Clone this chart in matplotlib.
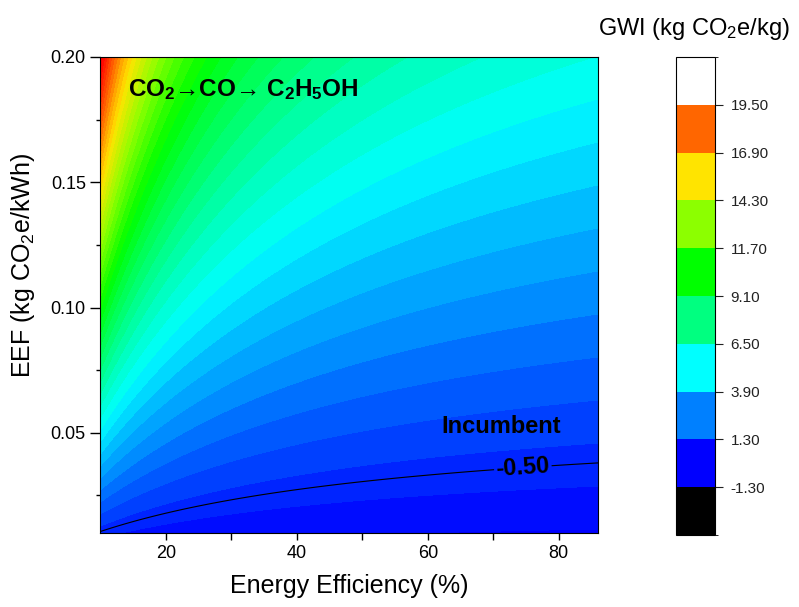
import numpy as np
import matplotlib
matplotlib.use("Agg")
import matplotlib.pyplot as plt
from matplotlib.colors import LinearSegmentedColormap, ListedColormap, BoundaryNorm, Normalize
import matplotlib.colorbar as mcolorbar

plt.rcParams['font.family'] = ['Liberation Sans', 'DejaVu Sans']
plt.rcParams['mathtext.fontset'] = 'custom'
plt.rcParams['mathtext.rm'] = 'Liberation Sans'
plt.rcParams['mathtext.it'] = 'Liberation Sans:italic'
plt.rcParams['mathtext.bf'] = 'Liberation Sans:bold'

# ---- data / model parameters (GWI = base + EEF * (bop + cell / efficiency)) ----
gwi_base = -1.65          # kg CO2e/kg, non-electricity contribution
elec_bop = 20.0           # kWh/kg, efficiency-independent electricity
elec_cell = 8.84          # kWh/kg at 100 % efficiency
efficiency_range = [10, 86]      # %
eef_range = [0.01, 0.20]         # kg CO2e/kWh
incumbent_level = [-0.50]

cbar_bounds = [-1.30, 1.30, 3.90, 6.50, 9.10, 11.70, 14.30, 16.90, 19.50]
cbar_colors = ['#000000', '#0000FF', '#0080FF', '#00FFFF', '#00FF80', '#00FF00',
               '#8CFF00', '#FFE400', '#FF6600', '#FFFFFF']
map_colors = ['#0000FF', '#0080FF', '#00FFFF', '#00FF80', '#00FF00',
              '#8CFF00', '#FFE400', '#FF6600', '#FF0000']

eta = np.linspace(efficiency_range[0], efficiency_range[1], 300)
eef = np.linspace(eef_range[0], eef_range[1], 300)
ETA, EEF = np.meshgrid(eta, eef)
GWI = gwi_base + EEF * (elec_bop + elec_cell / (ETA / 100.0))

fig = plt.figure(figsize=(7.99, 6.07), dpi=100)
ax = fig.add_axes([0.1257, 0.1219, 0.6228, 0.7842])

cmap = LinearSegmentedColormap.from_list('gwi', list(zip(
    (np.array(cbar_bounds) - cbar_bounds[0]) / (cbar_bounds[-1] - cbar_bounds[0]), map_colors)))
cmap.set_over('#FF0000')
cmap.set_under('#0000FF')
levels = np.arange(-1.82, 21.0, 0.52)
ax.contourf(ETA, EEF, GWI, levels=levels, cmap=cmap,
            norm=Normalize(cbar_bounds[0], cbar_bounds[-1]), extend='both')
cs = ax.contour(ETA, EEF, GWI, levels=incumbent_level, colors='black',
                linewidths=0.8, linestyles='solid')
labels = ax.clabel(cs, fmt='%.2f', inline=True, inline_spacing=2, fontsize=17,
                   manual=[(74.5, 0.0366)])
for t in labels:
    t.set_fontweight('bold')

ax.set_xlim(efficiency_range)
ax.set_ylim(eef_range)
ax.set_xticks([20, 40, 60, 80])
ax.set_xticks([30, 50, 70], minor=True)
ax.set_yticks([0.05, 0.10, 0.15, 0.20])
ax.set_yticks(np.arange(0.025, 0.2001, 0.025), minor=True)
ax.yaxis.set_major_formatter(matplotlib.ticker.FormatStrFormatter('%.2f'))
ax.tick_params(which='both', direction='out', labelsize=13, colors='black', width=1)
ax.tick_params(axis='y', which='major', length=7)
ax.tick_params(axis='y', which='minor', length=3)
ax.tick_params(axis='x', which='both', length=5)
ax.set_xlabel('Energy Efficiency (%)', fontsize=18, labelpad=9)
ax.set_ylabel('EEF (kg CO$_2$e/kWh)', fontsize=18)
ax.yaxis.set_label_coords(-0.127, 0.563)

ax.text(0.055, 0.932, r'CO$_\mathbf{2}$→CO→ C$_\mathbf{2}$H$_\mathbf{5}$OH',
        transform=ax.transAxes, fontsize=17.5, fontweight='bold', va='center', ha='left')
ax.text(0.805, 0.224, 'Incumbent', transform=ax.transAxes, fontsize=17,
        fontweight='bold', ha='center', va='center')

cax = fig.add_axes([0.846, 0.1186, 0.049, 0.7875])
cb = mcolorbar.ColorbarBase(cax, cmap=ListedColormap(cbar_colors),
                            norm=BoundaryNorm([-3.9] + cbar_bounds + [22.1], 10),
                            boundaries=[-3.9] + cbar_bounds + [22.1],
                            ticks=cbar_bounds, spacing='uniform')
cb.ax.set_yticklabels(['%.2f' % v for v in cbar_bounds])
cb.ax.tick_params(labelsize=11, length=6, width=0.8, colors='#222222', pad=5)
cb.outline.set_linewidth(0.8)
fig.text(0.869, 0.953, 'GWI (kg CO$_2$e/kg)', fontsize=17, ha='center', va='center')

fig.savefig('out.png', dpi=100)
